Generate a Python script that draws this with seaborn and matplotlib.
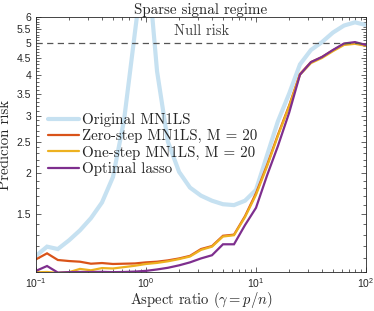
import numpy as np
import pandas as pd
import matplotlib
matplotlib.use('Agg')
import matplotlib.pyplot as plt
import seaborn as sns
from matplotlib.ticker import FixedLocator, NullFormatter, LogLocator

# aspect ratio grid (gamma = p/n)
gamma = [0.1, 0.126, 0.158, 0.2, 0.251, 0.316, 0.398, 0.501, 0.631, 0.794,
         1.0, 1.26, 1.58, 2.0, 2.51, 3.16, 3.98, 5.01, 6.31, 7.94,
         10.0, 12.6, 15.8, 20.0, 25.1, 31.6, 39.8, 50.1, 63.1, 79.4, 100.0]

# prediction risk
original = [1.12, 1.195, 1.175, 1.25, 1.34, 1.46, 1.63, 1.95, 2.9, 5.4,
            10.0, 4.1, 2.5, 2.02, 1.81, 1.71, 1.65, 1.61, 1.60, 1.65,
            1.78, 2.27, 2.88, 3.5, 4.3, 4.76, 5.03, 5.38, 5.65, 5.78, 5.67]
zero_step = [1.093, 1.14, 1.088, 1.08, 1.075, 1.06, 1.065, 1.058, 1.06, 1.062,
             1.07, 1.075, 1.085, 1.10, 1.12, 1.175, 1.20, 1.29, 1.30, 1.48,
             1.74, 2.12, 2.62, 3.22, 4.02, 4.37, 4.53, 4.75, 4.96, 5.0, 4.92]
one_step = [0.998, 1.0, 0.994, 0.999, 1.022, 1.012, 1.028, 1.025, 1.035, 1.045,
            1.058, 1.066, 1.078, 1.095, 1.115, 1.168, 1.195, 1.283, 1.295, 1.47,
            1.72, 2.1, 2.6, 3.2, 4.0, 4.34, 4.5, 4.72, 4.93, 4.97, 4.9]
lasso = [1.008, 1.043, 0.996, 0.999, 1.0, 1.0, 1.001, 0.999, 1.0, 1.003,
         1.008, 1.018, 1.03, 1.048, 1.07, 1.10, 1.125, 1.215, 1.215, 1.39,
         1.57, 1.97, 2.42, 3.06, 4.0, 4.37, 4.53, 4.76, 4.98, 5.03, 4.93]
null_risk = 5.0

labels = ['Original MN1LS', 'Zero-step MN1LS, M = 20',
          'One-step MN1LS, M = 20', 'Optimal lasso']
colors = ['#c6e1f1', '#d95319', '#edb120', '#7e2f8e']
widths = [3.0, 1.6, 1.6, 1.6]
yticks = [1.5, 2, 2.5, 3, 3.5, 4, 4.5, 5, 5.5, 6]

sns.set_style('ticks')
plt.rcParams['font.family'] = ['cmr10']
plt.rcParams['mathtext.fontset'] = 'cm'
plt.rcParams['axes.unicode_minus'] = True

fig = plt.figure(figsize=(3.74, 3.11), dpi=100)
ax = fig.add_axes([36 / 374, 1 - 272 / 311, 330 / 374, 255 / 311])

for vals, lab, c, lw in zip([original, zero_step, one_step, lasso], labels, colors, widths):
    df = pd.DataFrame({'gamma': gamma, 'risk': vals})
    sns.lineplot(data=df, x='gamma', y='risk', ax=ax, color=c, linewidth=lw,
                 label=lab, solid_joinstyle='miter')

ax.axhline(null_risk, color='#555555', linestyle=(0, (5, 3.5)), linewidth=0.9)
ax.text(3.2, 5.42, 'Null risk', ha='center', va='center', fontsize=10.5,
        color='#404040', family='cmr10')

ax.set_xscale('log')
ax.set_yscale('log')
ax.set_xlim(0.1, 100)
ax.set_ylim(1, 6)
ax.yaxis.set_major_locator(FixedLocator(yticks))
ax.set_yticklabels([f'{t:g}' for t in yticks])
ax.yaxis.set_minor_locator(FixedLocator(np.arange(1.0, 6.0, 0.1)))
ax.yaxis.set_minor_formatter(NullFormatter())
ax.xaxis.set_minor_locator(LogLocator(base=10, subs=np.arange(2, 10)))

for s in ax.spines.values():
    s.set_color('#262626')
    s.set_linewidth(0.6)
ax.tick_params(which='both', direction='in', top=True, right=True,
               color='#262626', width=0.5, labelsize=7.5,
               labelcolor='#262626', labelfontfamily='Liberation Sans')
ax.tick_params(which='major', length=3.5)
ax.tick_params(which='minor', length=2)
ax.tick_params(axis='x', pad=3)

ax.set_title('Sparse signal regime', fontsize=10.8, pad=2)
ax.set_xlabel(r'Aspect ratio ($\gamma = p/n$)', fontsize=10.5, labelpad=0)
ax.set_ylabel('Predicion risk', fontsize=10.8, labelpad=3)

ax.legend(loc='center left', bbox_to_anchor=(0.036, 0.5), frameon=False,
          fontsize=10.8, handlelength=2.1, handletextpad=0.2,
          labelspacing=0.15, borderpad=0, borderaxespad=0)

fig.savefig('out.png', dpi=100)
